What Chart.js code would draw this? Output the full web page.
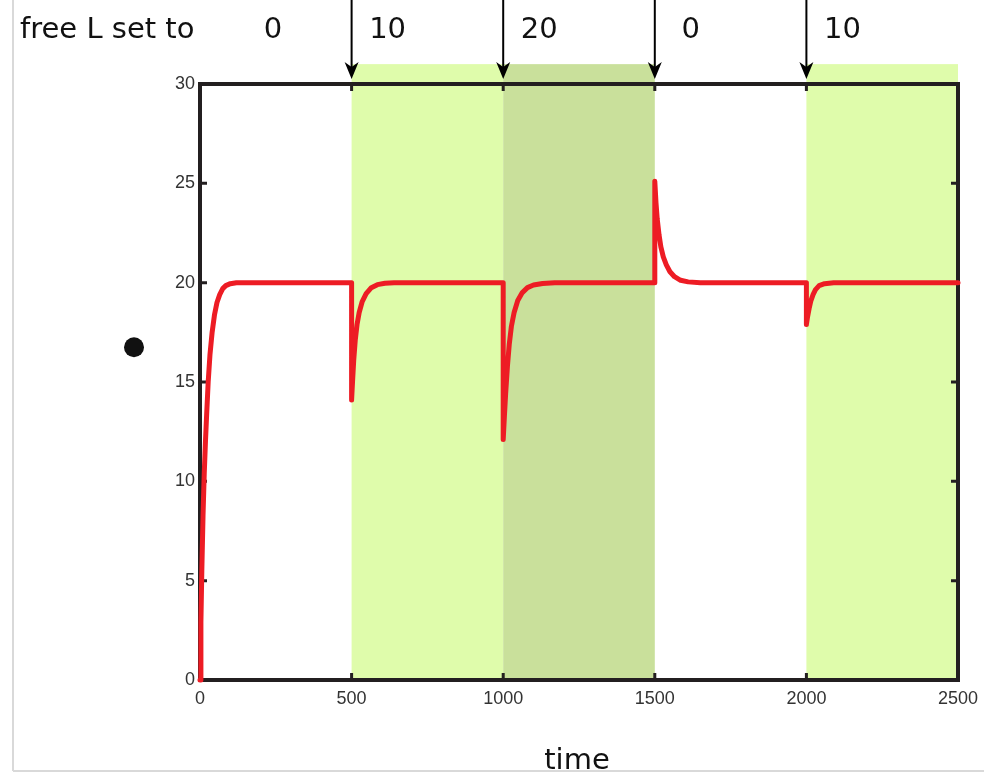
<!DOCTYPE html>
<html>
<head>
<meta charset="utf-8">
<script src="https://cdn.jsdelivr.net/npm/chart.js@4/dist/chart.umd.min.js"></script>
<style>
  html, body { margin: 0; padding: 0; background: #ffffff; }
  #wrap { position: absolute; left: 0; top: 0; width: 984px; height: 772px; }
</style>
</head>
<body>
<div id="wrap"><canvas id="c" width="984" height="772"></canvas></div>
<script>
// ---- data ----
const curveTime = [
  0, 3, 6, 10, 14, 18, 22, 27, 33, 40, 48, 56, 65, 75, 85, 100, 120, 150, 200, 300, 400, 500,
  500, 503, 507, 512, 518, 525, 535, 548, 565, 585, 610, 640, 800, 1000,
  1000, 1004, 1008, 1014, 1020, 1027, 1036, 1048, 1063, 1080, 1100, 1130, 1170, 1300, 1500,
  1500, 1504, 1508, 1514, 1520, 1528, 1538, 1550, 1565, 1585, 1610, 1650, 1800, 2000,
  2000, 2004, 2009, 2015, 2022, 2030, 2042, 2060, 2090, 2300, 2500
];
const curveValue = [
  0, 2.9, 5.5, 8.3, 10.4, 12.0, 13.4, 15.0, 16.4, 17.5, 18.4, 19.0, 19.4, 19.7, 19.85, 19.95, 20, 20, 20, 20, 20, 20,
  14.1, 15.0, 16.1, 17.1, 17.9, 18.5, 19.05, 19.45, 19.75, 19.9, 19.97, 20, 20, 20,
  12.1, 13.3, 14.4, 15.8, 16.9, 17.8, 18.5, 19.1, 19.5, 19.75, 19.88, 19.96, 20, 20, 20,
  25.1, 24.0, 23.2, 22.4, 21.8, 21.3, 20.9, 20.55, 20.3, 20.12, 20.04, 20, 20, 20,
  17.9, 18.3, 18.7, 19.1, 19.4, 19.65, 19.85, 19.95, 20, 20, 20
];
const switchTimes = [0, 500, 1000, 1500, 2000];
const freeLLevels = ['0', '10', '20', '0', '10'];
const shadeStart = [500, 1000, 2000];
const shadeEnd = [1000, 1500, 2500];
const shadeLevel = [10, 20, 10];
const xTicks = [0, 500, 1000, 1500, 2000, 2500];
const yTicks = [0, 5, 10, 15, 20, 25, 30];

const points = curveTime.map((t, i) => ({ x: t, y: curveValue[i] }));
const shadeColors = { 10: '#dffcab', 20: '#c9e09b' };

const decor = {
  id: 'decor',
  beforeDatasetsDraw(chart) {
    const { ctx, chartArea: a, scales: { x, y } } = chart;
    ctx.save();
    const topPx = y.getPixelForValue(31);
    shadeStart.forEach((s, i) => {
      const x0 = x.getPixelForValue(s), x1 = x.getPixelForValue(shadeEnd[i]);
      ctx.fillStyle = shadeColors[shadeLevel[i]];
      ctx.fillRect(x0, topPx, x1 - x0, a.bottom - topPx);
    });
    ctx.strokeStyle = '#231f20';
    ctx.lineWidth = 4;
    ctx.strokeRect(a.left, a.top, a.right - a.left, a.bottom - a.top);
    ctx.lineWidth = 3;
    ctx.beginPath();
    yTicks.slice(1, -1).forEach(v => {
      const py = y.getPixelForValue(v);
      ctx.moveTo(a.left, py); ctx.lineTo(a.left + 7, py);
      ctx.moveTo(a.right, py); ctx.lineTo(a.right - 7, py);
    });
    xTicks.slice(1, -1).forEach(v => {
      const px = x.getPixelForValue(v);
      ctx.moveTo(px, a.top); ctx.lineTo(px, a.top + 7);
      ctx.moveTo(px, a.bottom); ctx.lineTo(px, a.bottom - 7);
    });
    ctx.stroke();
    ctx.restore();
  },
  afterDraw(chart) {
    const { ctx, chartArea: a, scales: { x, y } } = chart;
    ctx.save();
    ctx.strokeStyle = '#000';
    ctx.fillStyle = '#000';
    ctx.lineWidth = 2;
    switchTimes.slice(1).forEach(t => {
      const px = x.getPixelForValue(t);
      ctx.beginPath();
      ctx.moveTo(px, 0); ctx.lineTo(px, a.top - 14);
      ctx.stroke();
      ctx.beginPath();
      ctx.moveTo(px - 7, a.top - 22);
      ctx.lineTo(px, a.top - 5);
      ctx.lineTo(px + 7, a.top - 22);
      ctx.lineTo(px, a.top - 17);
      ctx.closePath();
      ctx.fill();
    });
    ctx.font = '29px "DejaVu Sans"';
    ctx.fillStyle = '#111';
    ctx.textBaseline = 'alphabetic';
    ctx.textAlign = 'left';
    ctx.fillText('free L set to', 20, 38);
    ctx.textAlign = 'center';
    switchTimes.forEach((t, i) => {
      const px = x.getPixelForValue(t) + (i === 0 ? 73 : 36);
      ctx.fillText(freeLLevels[i], px, 38);
    });
    ctx.fillText('time', (a.left + a.right) / 2 - 2, 769);
    ctx.beginPath();
    ctx.arc(a.left - 66, y.getPixelForValue(16.75), 10, 0, Math.PI * 2);
    ctx.fillStyle = '#111';
    ctx.fill();
    ctx.strokeStyle = '#d9d9d9';
    ctx.lineWidth = 2;
    ctx.beginPath();
    ctx.moveTo(13, 0); ctx.lineTo(13, 771);
    ctx.moveTo(13, 771); ctx.lineTo(984, 771);
    ctx.stroke();
    ctx.restore();
  }
};

new Chart(document.getElementById('c'), {
  type: 'line',
  data: {
    datasets: [{
      data: points,
      borderColor: '#ed1c24',
      borderWidth: 5,
      pointRadius: 0,
      tension: 0,
      fill: false,
      clip: false,
      borderJoinStyle: 'round',
      borderCapStyle: 'round'
    }]
  },
  options: {
    responsive: false,
    animation: false,
    devicePixelRatio: 1,
    layout: { padding: { left: 160, right: 26, top: 84, bottom: 0 } },
    plugins: { legend: { display: false }, tooltip: { enabled: false } },
    scales: {
      x: {
        type: 'linear',
        min: 0, max: 2500,
        afterBuildTicks: s => { s.ticks = xTicks.map(v => ({ value: v })); },
        afterFit: s => { s.height = 92; s.paddingRight = 0; s.paddingLeft = 0; },
        grid: { display: false, drawTicks: false },
        border: { display: false },
        ticks: { padding: 8, color: '#333', font: { family: '"Liberation Sans", Arial', size: 18 }, maxRotation: 0,
                 callback: v => String(v) }
      },
      y: {
        min: 0, max: 30,
        afterBuildTicks: s => { s.ticks = yTicks.map(v => ({ value: v })); },
        afterFit: s => { s.width = 40; },
        grid: { display: false, drawTicks: false },
        border: { display: false },
        ticks: { padding: 5, color: '#333', font: { family: '"Liberation Sans", Arial', size: 18 },
                 callback: v => String(v) }
      }
    }
  },
  plugins: [decor]
});
</script>
</body>
</html>
